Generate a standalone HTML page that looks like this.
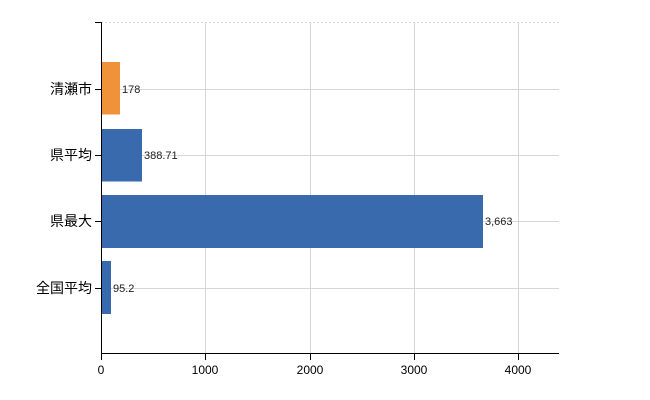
<!DOCTYPE html>
<html><head><meta charset="utf-8"><style>body{margin:0;background:#fff}svg{display:block}</style></head><body>
<svg width="650" height="400" xmlns="http://www.w3.org/2000/svg" font-family="Liberation Sans, Noto Sans CJK JP, sans-serif">
<g stroke="#d6d6d6" stroke-width="1">
<line x1="101" y1="22.5" x2="559" y2="22.5" stroke-dasharray="2,2"/>
<line x1="101" y1="89.5" x2="559" y2="89.5"/>
<line x1="101" y1="155.5" x2="559" y2="155.5"/>
<line x1="101" y1="221.5" x2="559" y2="221.5"/>
<line x1="101" y1="288.5" x2="559" y2="288.5"/>
<line x1="205.5" y1="22" x2="205.5" y2="354"/>
<line x1="310.5" y1="22" x2="310.5" y2="354"/>
<line x1="414.5" y1="22" x2="414.5" y2="354"/>
<line x1="518.5" y1="22" x2="518.5" y2="354"/>
</g>
<rect x="101.5" y="62" width="18.5" height="52.5" fill="#f0923a"/>
<rect x="101.5" y="129" width="40.5" height="52.5" fill="#3a6aae"/>
<rect x="101.5" y="195" width="381.5" height="53" fill="#3a6aae"/>
<rect x="101.5" y="261" width="9.5" height="53" fill="#3a6aae"/>
<g font-size="11" fill="#222">
<text x="122" y="93">178</text>
<text x="144" y="159">388.71</text>
<text x="485" y="225">3,663</text>
<text x="113" y="292">95.2</text>
</g>
<g stroke="#000" stroke-width="1">
<line x1="101.5" y1="22" x2="101.5" y2="354"/>
<line x1="101" y1="353.5" x2="559" y2="353.5"/>
<line x1="95" y1="22.5" x2="101" y2="22.5"/>
<line x1="95" y1="89.5" x2="101" y2="89.5"/>
<line x1="95" y1="155.5" x2="101" y2="155.5"/>
<line x1="95" y1="221.5" x2="101" y2="221.5"/>
<line x1="95" y1="288.5" x2="101" y2="288.5"/>
<line x1="101.5" y1="354" x2="101.5" y2="360"/>
<line x1="205.5" y1="354" x2="205.5" y2="360"/>
<line x1="310.5" y1="354" x2="310.5" y2="360"/>
<line x1="414.5" y1="354" x2="414.5" y2="360"/>
<line x1="518.5" y1="354" x2="518.5" y2="360"/>
</g>
<g font-size="14" fill="#000" text-anchor="end">
<text x="92" y="94">清瀬市</text>
<text x="92" y="160">県平均</text>
<text x="92" y="226">県最大</text>
<text x="92" y="293">全国平均</text>
</g>
<g font-size="12" fill="#000" text-anchor="middle">
<text x="101" y="374">0</text>
<text x="205" y="374">1000</text>
<text x="310" y="374">2000</text>
<text x="414" y="374">3000</text>
<text x="518" y="374">4000</text>
</g>
</svg>
</body></html>
